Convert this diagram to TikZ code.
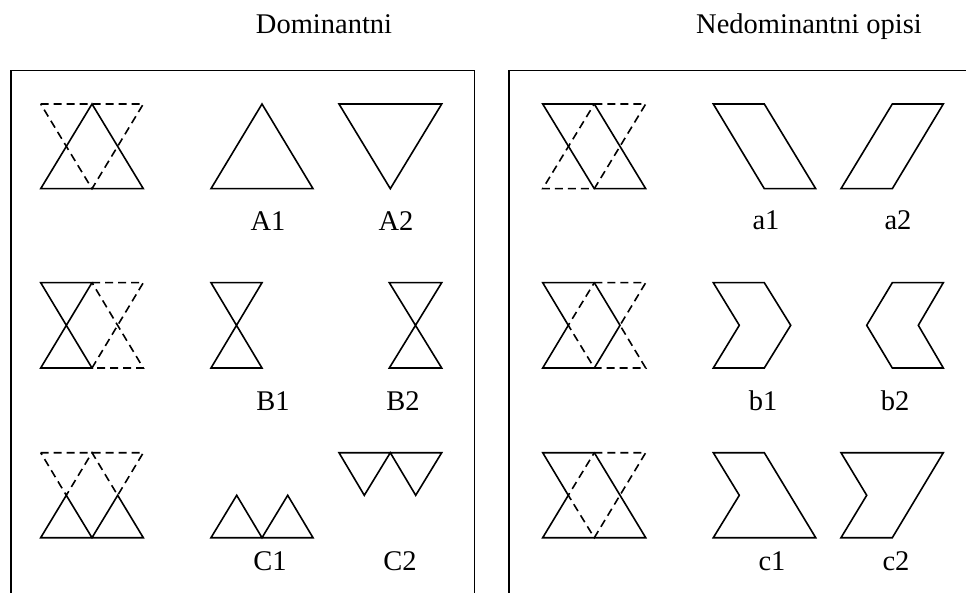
\documentclass[tikz,border=0pt]{standalone}
\usepackage{fontspec}
\setmainfont{Liberation Serif}
\usetikzlibrary{positioning}

\begin{document}
\begin{tikzpicture}[x=1pt, y=-1pt, line width=1.6pt, line join=miter,
  skriveni/.style={dash pattern=on 8pt off 5pt},
  oznaka/.style={anchor=base, inner sep=0pt, font=\fontsize{28.5}{30}\selectfont}]
\useasboundingbox (0,0) rectangle (966,593);
\node[oznaka] (dom) at (324,34) {Dominantni};
\node[oznaka] (nedom) at (809,34) {Nedominantni opisi};
\draw (11,593) -- (11,70.7) -- (474.5,70.7) -- (474.5,593);
\draw (509,593) -- (509,70.7) -- (966,70.7);
% dominantni: trokuti
\draw (40.7,188.7) -- (92,104) -- (143.3,188.7) -- cycle;
\draw[skriveni] (40.7,104) -- (143.3,104) -- (92,188.7) -- cycle;
\draw (211,188.7) -- (262,104) -- (313,188.7) -- cycle;
\draw (339,104) -- (441.7,104) -- (390.3,188.7) -- cycle;
\node[oznaka] (A1) at (268,231) {A1};
\node[oznaka] (A2) at (396,231) {A2};
\draw (40.7,282.7) -- (92,282.7) -- (40.7,368) -- (92,368) -- cycle;
\draw[skriveni] (92,282.7) -- (143.3,282.7) -- (92,368) -- (143.3,368) -- cycle;
\draw (211,282.7) -- (262,282.7) -- (211,368) -- (262,368) -- cycle;
\draw (389.3,282.7) -- (441.7,282.7) -- (389.3,368) -- (441.7,368) -- cycle;
\node[oznaka] (B1) at (273,410) {B1};
\node[oznaka] (B2) at (403,410) {B2};
\draw (40.7,537.7) -- (66.3,495.3) -- (92,537.7) -- (117.7,495.3) -- (143.3,537.7) -- cycle;
\draw[skriveni] (40.7,452.7) -- (143.3,452.7) -- (117.7,495.3) -- (92,452.7) -- (66.3,495.3) -- cycle;
\draw (211,537.7) -- (236.7,495.3) -- (262,537.7) -- (287.7,495.3) -- (313,537.7) -- cycle;
\draw (339,452.7) -- (441.7,452.7) -- (415.7,495.3) -- (390.3,452.7) -- (364.3,495.3) -- cycle;
\node[oznaka] (C1) at (270,570) {C1};
\node[oznaka] (C2) at (400,570) {C2};
% nedominantni opisi
\draw (542.7,104) -- (594.3,104) -- (645.7,188.7) -- (594.3,188.7) -- cycle;
\draw[skriveni] (594.3,104) -- (645.7,104) -- (594.3,188.7) -- (542.7,188.7) -- cycle;
\draw (713.3,104) -- (764.3,104) -- (815.7,188.7) -- (764.3,188.7) -- cycle;
\draw (892.3,104) -- (943.3,104) -- (892.3,188.7) -- (841,188.7) -- cycle;
\node[oznaka] (a1) at (766,230) {a1};
\node[oznaka] (a2) at (898,230) {a2};
\draw (542.7,282.7) -- (594.3,282.7) -- (620,325.3) -- (594.3,368) -- (542.7,368) -- (568.3,325.3) -- cycle;
\draw[skriveni] (594.3,282.7) -- (645.7,282.7) -- (620,325.3) -- (645.7,368) -- (594.3,368) -- (568.3,325.3) -- cycle;
\draw (713.3,282.7) -- (764.3,282.7) -- (790.7,325.3) -- (764.3,368) -- (713.3,368) -- (739.3,325.3) -- cycle;
\draw (892.3,282.7) -- (943.3,282.7) -- (918.3,325.3) -- (943.3,368) -- (892.3,368) -- (866.7,325.3) -- cycle;
\node[oznaka] (b1) at (763,410) {b1};
\node[oznaka] (b2) at (895,410) {b2};
\draw (542.7,452.7) -- (594.3,452.7) -- (645.7,537.7) -- (542.7,537.7) -- (568.3,495.3) -- cycle;
\draw[skriveni] (594.3,452.7) -- (645.7,452.7) -- (594.3,537.7) -- (568.3,495.3) -- cycle;
\draw (713.3,452.7) -- (764.3,452.7) -- (815.7,537.7) -- (713.3,537.7) -- (739.3,495.3) -- cycle;
\draw (841,452.7) -- (943.3,452.7) -- (892.3,537.7) -- (841,537.7) -- (866.7,495.3) -- cycle;
\node[oznaka] (c1) at (772,570) {c1};
\node[oznaka] (c2) at (896,570) {c2};
\end{tikzpicture}
\end{document}
